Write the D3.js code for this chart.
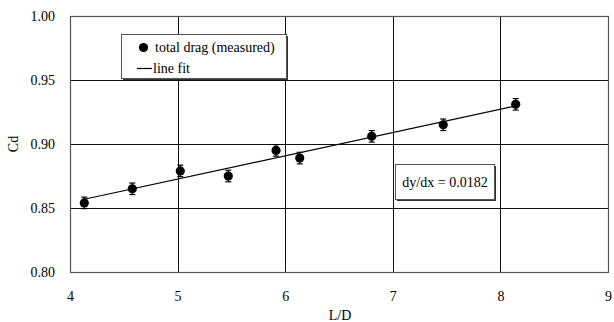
<!DOCTYPE html>
<html>
<head>
<meta charset="utf-8">
<script src="https://cdn.jsdelivr.net/npm/d3@7"></script>
<style>
  html, body { margin: 0; padding: 0; background: #fff; }
  svg { display: block; }
  svg text { font-family: 'Liberation Serif', 'Times New Roman', Times, serif; font-size: 14px; fill: #000; }
</style>
</head>
<body>
<svg id="chart" width="614" height="322"></svg>
<script>
// Measured drag coefficient against length/diameter ratio
const ratioLD = [4.133, 4.579, 5.025, 5.471, 5.915, 6.135, 6.804, 7.469, 8.142];
const dragCd = [0.854, 0.865, 0.879, 0.875, 0.895, 0.889, 0.906, 0.915, 0.931];
const dragErr = [0.0045, 0.0045, 0.0045, 0.0045, 0.0045, 0.0045, 0.0045, 0.0045, 0.0045];

// Linear fit through the measurements
const fitSlope = 0.0182;
const fitIntercept = 0.7816;

const xTicks = [4, 5, 6, 7, 8, 9];
const yTicks = [0.80, 0.85, 0.90, 0.95, 1.00];

const FONT = "'Liberation Serif', 'Times New Roman', serif";

const svg = d3.select("#chart");
const plot = { left: 70, right: 608, top: 16, bottom: 272 };

const x = d3.scaleLinear().domain([4, 9]).range([plot.left, plot.right]);
const y = d3.scaleLinear().domain([0.80, 1.00]).range([plot.bottom, plot.top]);

// Grid lines
const grid = svg.append("g");
grid.selectAll("line.v").data(xTicks.slice(1, -1)).join("line")
  .attr("x1", d => Math.round(x(d)) + 0.5).attr("x2", d => Math.round(x(d)) + 0.5)
  .attr("y1", plot.top).attr("y2", plot.bottom)
  .attr("stroke", "#111").attr("stroke-width", 1);
grid.selectAll("line.h").data(yTicks.slice(1, -1)).join("line")
  .attr("y1", d => Math.round(y(d)) + 0.5).attr("y2", d => Math.round(y(d)) + 0.5)
  .attr("x1", plot.left).attr("x2", plot.right)
  .attr("stroke", "#111").attr("stroke-width", 1);

// Plot frame
svg.append("rect")
  .attr("x", plot.left + 0.5).attr("y", plot.top + 0.5)
  .attr("width", plot.right - plot.left).attr("height", plot.bottom - plot.top)
  .attr("fill", "none").attr("stroke", "#555").attr("stroke-width", 1.2);

// Axes (labels only, no tick marks)
const xAxis = d3.axisBottom(x).tickValues(xTicks).tickFormat(d3.format("d")).tickSize(0).tickPadding(19);
const yAxis = d3.axisLeft(y).tickValues(yTicks).tickFormat(d3.format(".2f")).tickSize(0).tickPadding(15);

const gx = svg.append("g").attr("transform", `translate(0,${plot.bottom})`).call(xAxis);
const gy = svg.append("g").attr("transform", `translate(${plot.left},0)`).call(yAxis);
[gx, gy].forEach(g => {
  g.attr("font-family", FONT).attr("font-size", 14);
  g.select(".domain").remove();
  g.selectAll("text").attr("fill", "#000");
});

// Axis titles
svg.append("text").attr("x", 340).attr("y", 320).attr("text-anchor", "middle")
  .attr("font-family", FONT).text("L/D");
svg.append("text").attr("transform", "translate(18,144) rotate(-90)").attr("text-anchor", "middle")
  .attr("font-family", FONT).text("Cd");

// Fit line
const x0 = d3.min(ratioLD), x1 = d3.max(ratioLD);
svg.append("line")
  .attr("x1", x(x0)).attr("y1", y(fitIntercept + fitSlope * x0))
  .attr("x2", x(x1)).attr("y2", y(fitIntercept + fitSlope * x1))
  .attr("stroke", "#000").attr("stroke-width", 1.2);

// Error bars and markers
const pts = ratioLD.map((v, i) => ({ x: v, y: dragCd[i], e: dragErr[i] }));
const eb = svg.append("g").attr("stroke", "#000").attr("stroke-width", 1.2);
eb.selectAll("line.bar").data(pts).join("line")
  .attr("x1", d => x(d.x)).attr("x2", d => x(d.x))
  .attr("y1", d => y(d.y + d.e)).attr("y2", d => y(d.y - d.e));
eb.selectAll("line.top").data(pts).join("line")
  .attr("x1", d => x(d.x) - 3).attr("x2", d => x(d.x) + 3)
  .attr("y1", d => y(d.y + d.e)).attr("y2", d => y(d.y + d.e));
eb.selectAll("line.bot").data(pts).join("line")
  .attr("x1", d => x(d.x) - 3).attr("x2", d => x(d.x) + 3)
  .attr("y1", d => y(d.y - d.e)).attr("y2", d => y(d.y - d.e));
svg.append("g").selectAll("circle").data(pts).join("circle")
  .attr("cx", d => x(d.x)).attr("cy", d => y(d.y)).attr("r", 4.6).attr("fill", "#000");

// Legend
const lg = svg.append("g");
lg.append("rect").attr("x", 123).attr("y", 36).attr("width", 165).attr("height", 44).attr("fill", "#333");
lg.append("rect").attr("x", 121.5).attr("y", 34.5).attr("width", 165).attr("height", 44)
  .attr("fill", "#fff").attr("stroke", "#555").attr("stroke-width", 1);
lg.append("circle").attr("cx", 143.5).attr("cy", 47.5).attr("r", 4.6).attr("fill", "#000");
lg.append("text").attr("x", 155).attr("y", 52).attr("font-family", FONT).text("total drag (measured)");
lg.append("line").attr("x1", 137).attr("x2", 152).attr("y1", 68.5).attr("y2", 68.5)
  .attr("stroke", "#000").attr("stroke-width", 1.2);
lg.append("text").attr("x", 153).attr("y", 73).attr("font-family", FONT).text("line fit");

// Slope annotation
const ann = svg.append("g");
ann.append("rect").attr("x", 397).attr("y", 166).attr("width", 99).attr("height", 35).attr("fill", "#333");
ann.append("rect").attr("x", 395.5).attr("y", 164.5).attr("width", 99).attr("height", 35)
  .attr("fill", "#fff").attr("stroke", "#555").attr("stroke-width", 1);
ann.append("text").attr("x", 445).attr("y", 187).attr("text-anchor", "middle")
  .attr("font-family", FONT).text(`dy/dx = ${fitSlope.toFixed(4)}`);
</script>
</body>
</html>
